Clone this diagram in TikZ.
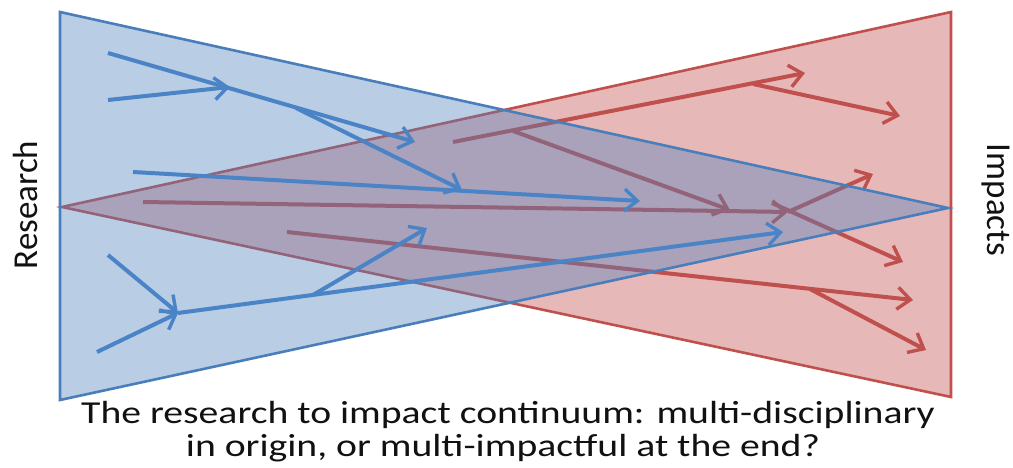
\documentclass[tikz,border=0pt]{standalone}
\usepackage{fontspec}
\setmainfont{Carlito}
\usetikzlibrary{arrows.meta}

\definecolor{bluefill}{HTML}{4F81BD}
\definecolor{blueedge}{HTML}{4A7EBB}
\definecolor{bluearrow}{HTML}{4A84C6}
\definecolor{redfill}{HTML}{E6B9B8}
\definecolor{rededge}{HTML}{C0504D}
\definecolor{redarrow}{HTML}{C0504D}
\definecolor{captiontext}{HTML}{111111}

\tikzset{
  tip/.tip={Straight Barb[length=13pt,width=22pt,line width=3.4pt]},
  bluetri/.style={draw=blueedge, line width=2.6pt, fill=bluefill, fill opacity=0.4, line join=miter},
  redtri/.style={draw=rededge, line width=2.6pt, fill=redfill, line join=miter},
  bluepath/.style={draw=bluearrow, line width=4pt},
  redpath/.style={draw=redarrow, line width=4pt},
  bluearr/.style={bluepath, -tip},
  redarr/.style={redpath, -tip},
  sidelabel/.style={font=\fontsize{35}{40}\selectfont, text=captiontext, inner sep=0pt},
  caption/.style={font=\fontsize{32}{33}\selectfont, text=captiontext, inner sep=0pt, anchor=base, xscale=1.24}
}

\begin{document}
\begin{tikzpicture}[x=1pt,y=-1pt]
\useasboundingbox (0,0) rectangle (1013,468);

% triangle corners
\coordinate (RL) at (62,207);
\coordinate (RT) at (951,12);
\coordinate (RB) at (951,397);
\coordinate (BT) at (60,12);
\coordinate (BB) at (60,400);
\coordinate (BR) at (948,208);

% red triangle: impacts widen toward the right
\path[redtri] (RL) -- (RT) -- (RB) -- cycle;

% red impact arrows
\coordinate (r1s) at (453,142);
\coordinate (r1t) at (805,73);
\coordinate (r1m) at (513,131);
\coordinate (r1u) at (730,210);
\coordinate (r1n) at (753,84);
\coordinate (r1v) at (900,116);
\coordinate (r2s) at (143,202);
\coordinate (r2t) at (788,212);
\coordinate (r2u) at (873,174);
\coordinate (r2x) at (772,203);
\coordinate (r2v) at (903,262);
\coordinate (r3s) at (287,232);
\coordinate (r3t) at (913,300);
\coordinate (r3m) at (810,289);
\coordinate (r3u) at (926,350);

\draw[redarr] (r1s) -- (r1t);
\draw[redarr] (r1m) -- (r1u);
\draw[redarr] (r1n) -- (r1v);
\draw[redarr] (r2s) -- (r2t);
\draw[redarr] (r2t) -- (r2u);
\draw[redarr] (r2x) -- (r2v);
\draw[redarr] (r3s) -- (r3t);
\draw[redarr] (r3m) -- (r3u);

% blue triangle: research narrows toward the right
\path[bluetri] (BT) -- (BB) -- (BR) -- cycle;

% blue research arrows
\coordinate (b1s) at (108,53);
\coordinate (b1t) at (415,142);
\coordinate (b1m) at (296,108);
\coordinate (b1u) at (462,190);
\coordinate (b2s) at (108,100);
\coordinate (b2t) at (230,87);
\coordinate (b3s) at (133,172);
\coordinate (b3t) at (640,201);
\coordinate (b4s) at (108,255);
\coordinate (b5s) at (97,352);
\coordinate (b6s) at (178,313);
\coordinate (b6m) at (313,295);
\coordinate (b6t) at (783,232);
\coordinate (b7t) at (427,228);

\draw[bluearr] (b1s) -- (b1t);
\draw[bluearr] (b1m) -- (b1u);
\draw[bluearr] (b2s) -- (b2t);
\draw[bluearr] (b3s) -- (b3t);
\draw[bluearr] (b4s) -- (b6s);
\draw[bluearr] (b5s) -- (b6s);
\draw[bluearr] (b6s) -- (b6t);
\draw[bluearr] (b6m) -- (b7t);

% labels
\node[sidelabel, rotate=90, anchor=base] (research) at (37,205) {Research};
\node[sidelabel, rotate=-90, anchor=base] (impacts) at (987,200) {Impacts};
\node[caption] (cap1) at (508,423) {The research to impact continuum: multi-disciplinary};
\node[caption] (cap2) at (503,456) {in origin, or multi-impactful at the end?};
\end{tikzpicture}
\end{document}
